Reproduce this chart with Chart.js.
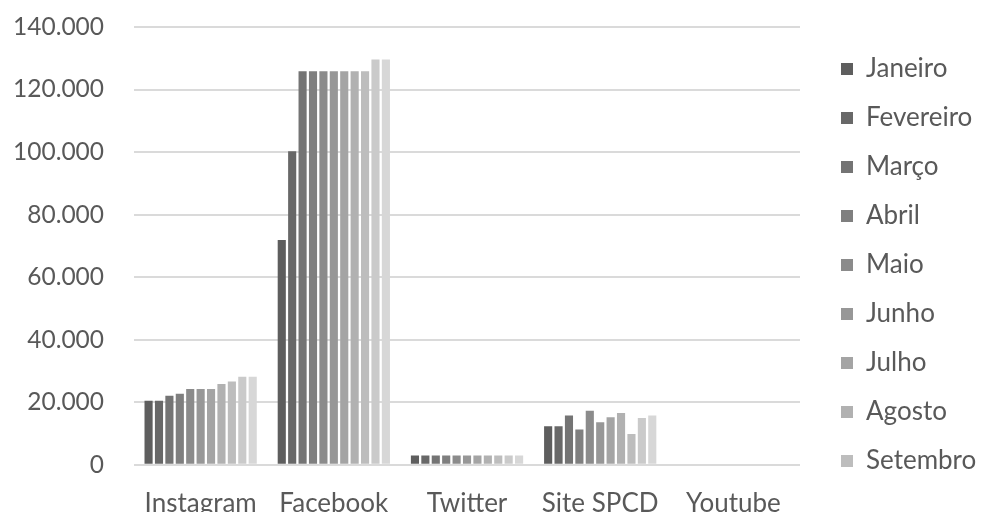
<!DOCTYPE html>
<html>
<head>
<meta charset="utf-8">
<script src="https://cdn.jsdelivr.net/npm/chart.js@4/dist/chart.umd.min.js"></script>
<style>
  html, body { margin: 0; padding: 0; background: #fff; }
  #chart { display: block; }
</style>
</head>
<body>
<canvas id="chart" width="981" height="512"></canvas>
<script>
// categories on the x axis
const categories = ['Instagram', 'Facebook', 'Twitter', 'Site SPCD', 'Youtube'];

// one series per month (only the first nine appear in the legend)
const months = ['Janeiro', 'Fevereiro', 'Março', 'Abril', 'Maio', 'Junho', 'Julho', 'Agosto', 'Setembro', 'Outubro', 'Novembro'];

const janeiro   = [20450,  71900, 3000, 12300, 0];
const fevereiro = [20450, 100250, 3000, 12300, 0];
const marco     = [22050, 125850, 3000, 15800, 0];
const abril     = [22700, 125850, 3000, 11250, 0];
const maio      = [24200, 125850, 3000, 17300, 0];
const junho     = [24200, 125850, 3000, 13600, 0];
const julho     = [24200, 125850, 3000, 15200, 0];
const agosto    = [25800, 125850, 3000, 16550, 0];
const setembro  = [26600, 125850, 3000,  9850, 0];
const outubro   = [28150, 129600, 3000, 14950, 0];
const novembro  = [28150, 129600, 3000, 15800, 0];

const seriesValues = [janeiro, fevereiro, marco, abril, maio, junho, julho, agosto, setembro, outubro, novembro];

// y axis ticks
const yTicks = [0, 20000, 40000, 60000, 80000, 100000, 120000, 140000];

// greys from dark to light, one per month
const greys = ['#5e5e5e', '#686868', '#747474', '#7f7f7f', '#8b8b8b', '#979797', '#a4a4a4', '#b1b1b1', '#bdbdbd', '#cacaca', '#d7d7d7'];

const legendShown = 9;
const textColor = '#595959';
const fontFamily = 'Lato, "Open Sans", sans-serif';

function formatThousands(v) {
  return String(v).replace(/\B(?=(\d{3})+(?!\d))/g, '.');
}

const datasets = months.map((m, i) => ({
  label: m,
  data: seriesValues[i],
  backgroundColor: greys[i],
  borderWidth: 0,
  categoryPercentage: 0.86,
  barPercentage: 0.78
}));

new Chart(document.getElementById('chart'), {
  type: 'bar',
  data: { labels: categories, datasets: datasets },
  options: {
    responsive: false,
    animation: false,
    devicePixelRatio: 1,
    layout: { padding: { top: -4, right: -4, bottom: -22, left: -17 } },
    plugins: {
      tooltip: { enabled: false },
      legend: {
        position: 'right',
        labels: {
          color: textColor,
          font: { family: fontFamily, size: 26 },
          boxWidth: 12,
          boxHeight: 12,
          padding: 23,
          filter: (item) => item.datasetIndex < legendShown
        }
      }
    },
    scales: {
      x: {
        grid: { display: false },
        border: { display: false },
        ticks: {
          color: textColor,
          font: { family: fontFamily, size: 26 },
          padding: 15
        }
      },
      y: {
        min: 0,
        max: 140000,
        afterBuildTicks: (axis) => { axis.ticks = yTicks.map(v => ({ value: v })); },
        // the tick padding would also push the plot top down; keep the top where it is in the picture
        afterFit: (axis) => { axis.paddingTop = 27; },
        grid: { color: '#dadada', lineWidth: 2, drawTicks: false },
        border: { display: false },
        ticks: {
          color: textColor,
          font: { family: fontFamily, size: 24.5 },
          padding: 30,
          callback: (v) => formatThousands(v)
        }
      },
      // empty right axis, only keeps a gap between the plot and the legend
      gap: {
        position: 'right',
        grid: { display: false },
        border: { display: false },
        ticks: { display: false },
        afterFit: (axis) => { axis.width = 18; }
      }
    }
  }
});
</script>
</body>
</html>
